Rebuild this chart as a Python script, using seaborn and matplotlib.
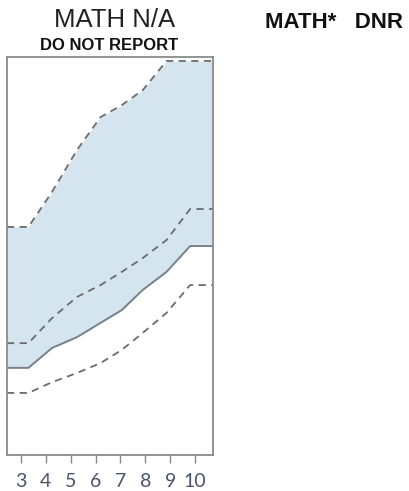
import numpy as np
import pandas as pd
import matplotlib
matplotlib.use("Agg")
import matplotlib.pyplot as plt
import seaborn as sns

### Data (grade position, scale value)

grade = [2.44, 3.3, 4.25, 5.25, 6.2, 7.05, 7.9, 8.85, 9.8, 10.72]
upper_dash = [57.3, 57.3, 66.1, 76.6, 84.9, 87.9, 91.7, 99.0, 99.0, 99.0]
middle_dash = [28.1, 28.1, 34.4, 39.7, 42.7, 46.0, 49.5, 54.0, 61.8, 61.8]
solid_line = [21.9, 21.9, 26.9, 29.6, 33.2, 36.4, 41.5, 46.0, 52.5, 52.5]
lower_dash = [15.6, 15.6, 18.3, 20.6, 23.1, 26.4, 30.7, 35.7, 42.7, 42.7]

tick_grades = [3, 4, 5, 6, 7, 8, 9, 10]

df = pd.DataFrame({'grade': grade, 'upper': upper_dash, 'middle': middle_dash,
                   'solid': solid_line, 'lower': lower_dash})

sns.set_style("white")
plt.rcParams['font.family'] = ['Liberation Sans', 'DejaVu Sans']

fig = plt.figure(figsize = (4.09, 4.91), dpi = 100)
ax = fig.add_axes([0.0171, 0.0733, 0.5037, 0.8106])

# shaded band between the solid line and the top dashed line
ax.fill_between(df['grade'], df['solid'], df['upper'], color = '#d4e5f0', linewidth = 0)

sns.lineplot(data = df, x = 'grade', y = 'upper', ax = ax, color = '#6b6b6b',
             linestyle = (0, (4, 3)), linewidth = 1.3)
sns.lineplot(data = df, x = 'grade', y = 'middle', ax = ax, color = '#6b6b6b',
             linestyle = (0, (4, 3)), linewidth = 1.3)
sns.lineplot(data = df, x = 'grade', y = 'lower', ax = ax, color = '#6b6b6b',
             linestyle = (0, (4, 3)), linewidth = 1.3)
sns.lineplot(data = df, x = 'grade', y = 'solid', ax = ax, color = '#7a8088',
             linewidth = 1.4)

ax.set_xlim(2.44, 10.72)
ax.set_ylim(0, 100)
ax.set_xlabel('')
ax.set_ylabel('')
ax.set_yticks([])
ax.set_xticks(tick_grades)
ax.set_xticklabels([str(g) for g in tick_grades], fontsize = 14, color = '#4a5468',
                   family = ['Lato', 'DejaVu Sans'])
ax.tick_params(axis = 'x', bottom = True, length = 6, width = 1, color = '#888888', pad = 7)

for s in ax.spines.values():
    s.set_color('#8a8a8a')
    s.set_linewidth(1.3)

### Header text

fig.text(0.279, 0.945, 'MATH N/A', ha = 'center', va = 'baseline', fontsize = 18.5, color = '#222222')
fig.text(0.267, 0.898, 'DO NOT REPORT', ha = 'center', va = 'baseline', fontsize = 12,
         fontweight = 'bold', color = '#111111')
fig.text(0.648, 0.943, 'MATH*   DNR', ha = 'left', va = 'baseline', fontsize = 16,
         fontweight = 'bold', color = '#111111')

fig.savefig('out.png', dpi = 100)
